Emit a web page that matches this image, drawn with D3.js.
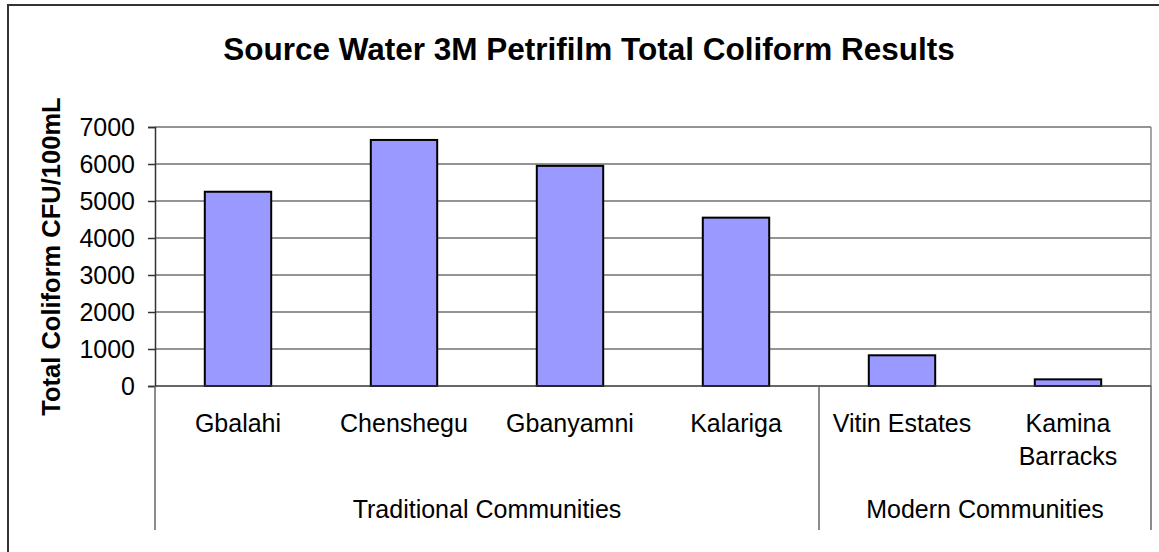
<!DOCTYPE html>
<html>
<head>
<meta charset="utf-8">
<script src="https://cdn.jsdelivr.net/npm/d3@7"></script>
<style>
  body { margin: 0; background: #fff; }
  text { font-family: Arial, "Liberation Sans", sans-serif; fill: #000; }
</style>
</head>
<body>
<div id="chart"></div>
<script>
// data
const communities = ['Gbalahi', 'Chenshegu', 'Gbanyamni', 'Kalariga', 'Vitin Estates', 'Kamina Barracks'];
const groups = ['Traditional Communities', 'Traditional Communities', 'Traditional Communities', 'Traditional Communities', 'Modern Communities', 'Modern Communities'];
const coliform = [5250, 6650, 5950, 4550, 830, 180];
const yTicks = [0, 1000, 2000, 3000, 4000, 5000, 6000, 7000];

let w = 1159,
    h = 552;

let margin = { top: 127, right: 8, bottom: 166, left: 155 };

let svg = d3.select('#chart').append('svg')
    .attr('width', w)
    .attr('height', h)

// outer chart frame (right and bottom edges run off the picture)
svg.append('rect')
    .attr('x', 8).attr('y', 5)
    .attr('width', 1160).attr('height', 560)
    .attr('fill', 'none')
    .attr('stroke', '#333')
    .attr('stroke-width', 2)

let x = d3.scaleBand()
    .domain(communities)
    .range([margin.left, w - margin.right])
    .paddingInner(0.6)
    .paddingOuter(0.3);

let y = d3.scaleLinear()
    .domain([0, 7000])
    .range([h - margin.bottom, margin.top]);

// gridlines
svg.append('g')
    .selectAll('line')
    .data(yTicks.slice(1))
    .enter().append('line')
    .attr('x1', margin.left).attr('x2', w - margin.right)
    .attr('y1', d => y(d)).attr('y2', d => y(d))
    .attr('stroke', '#707070')
    .attr('stroke-width', 1.5)

// right edge of plot
svg.append('line')
    .attr('x1', w - margin.right).attr('x2', w - margin.right)
    .attr('y1', y(7000)).attr('y2', y(0))
    .attr('stroke', '#888')
    .attr('stroke-width', 1.5)

// bars
svg.append('g')
    .selectAll('rect')
    .data(coliform)
    .enter().append('rect')
    .attr('x', (d, i) => x(communities[i]))
    .attr('y', d => y(d))
    .attr('width', x.bandwidth())
    .attr('height', d => y(0) - y(d))
    .attr('fill', '#9999ff')
    .attr('stroke', '#000')
    .attr('stroke-width', 2)

// y axis
let yAxis = svg.append('g')
    .attr('transform', `translate(${margin.left},0)`)
    .call(d3.axisLeft(y).tickValues(yTicks).tickSize(7).tickPadding(13).tickFormat(d3.format('d')))

yAxis.select('.domain').attr('stroke', '#333').attr('stroke-width', 1.5)
yAxis.selectAll('.tick line').attr('stroke', '#333').attr('stroke-width', 1.5)
yAxis.selectAll('.tick text')
    .style('font-size', '25px')
    .style('font-family', 'Arial, "Liberation Sans", sans-serif')

// x axis baseline
svg.append('line')
    .attr('x1', margin.left).attr('x2', w - margin.right)
    .attr('y1', y(0)).attr('y2', y(0))
    .attr('stroke', '#333')
    .attr('stroke-width', 1.5)

// group separators under the axis
let step = x.step();
let groupNames = Array.from(new Set(groups));
let groupSpans = groupNames.map(g => {
    let idx = communities.filter((c, i) => groups[i] === g);
    return {
        name: g,
        x0: x(idx[0]) - step * x.paddingInner() / 2,
        x1: x(idx[idx.length - 1]) + x.bandwidth() + step * x.paddingInner() / 2
    };
});
groupSpans[0].x0 = margin.left;
groupSpans[groupSpans.length - 1].x1 = w - margin.right;
let seps = [margin.left].concat(groupSpans.map(d => d.x1));
svg.append('g')
    .selectAll('line')
    .data(seps)
    .enter().append('line')
    .attr('x1', d => d).attr('x2', d => d)
    .attr('y1', y(0)).attr('y2', 530)
    .attr('stroke', '#666')
    .attr('stroke-width', 1.5)

// category labels (Kamina Barracks wraps onto two lines)
svg.append('g')
    .selectAll('text')
    .data(communities)
    .enter().append('text')
    .attr('x', d => x(d) + x.bandwidth() / 2)
    .attr('y', 432)
    .attr('text-anchor', 'middle')
    .style('font-size', '25px')
    .each(function(d) {
        let words = d === 'Kamina Barracks' ? d.split(' ') : [d];
        d3.select(this).selectAll('tspan')
            .data(words)
            .enter().append('tspan')
            .attr('x', x(d) + x.bandwidth() / 2)
            .attr('dy', (t, j) => j === 0 ? 0 : 33)
            .text(t => t);
    })

// group labels
svg.append('g')
    .selectAll('text')
    .data(groupSpans)
    .enter().append('text')
    .attr('x', d => (d.x0 + d.x1) / 2)
    .attr('y', 518)
    .attr('text-anchor', 'middle')
    .style('font-size', '25px')
    .text(d => d.name)

// title
svg.append('text')
    .attr('x', 589)
    .attr('y', 60)
    .attr('text-anchor', 'middle')
    .style('font-size', '31.5px')
    .style('font-weight', 'bold')
    .text('Source Water 3M Petrifilm Total Coliform Results')

// y label
svg.append('text')
    .attr('transform', `translate(60,${(y(0) + y(7000)) / 2}) rotate(-90)`)
    .attr('text-anchor', 'middle')
    .style('font-size', '25.5px')
    .style('font-weight', 'bold')
    .text('Total Coliform CFU/100mL')
</script>
</body>
</html>
